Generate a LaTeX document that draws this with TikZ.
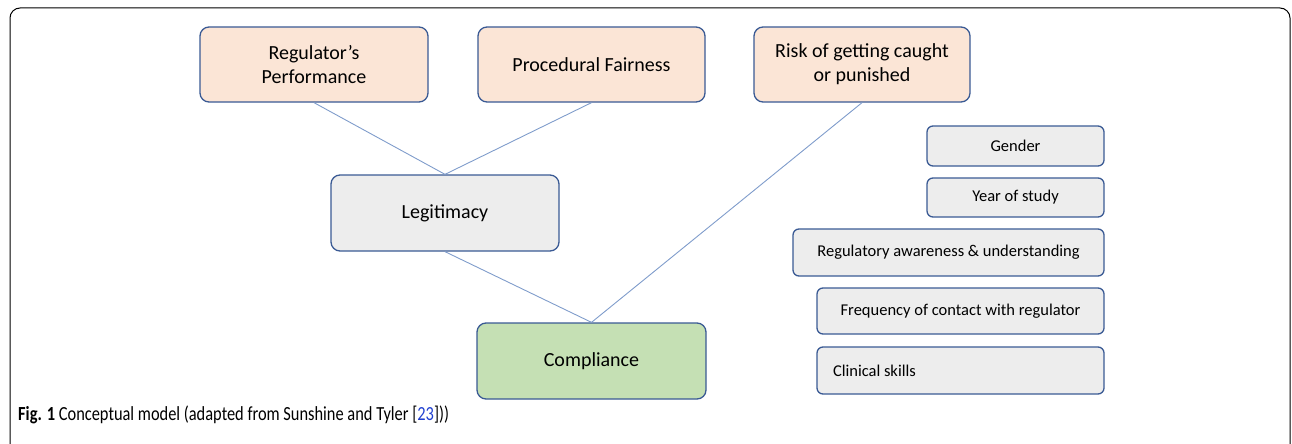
\documentclass[tikz,border=0pt]{standalone}
\usepackage{fontspec}
\setmainfont{Carlito}
\newfontfamily\capfont[FakeStretch=0.82]{Carlito}
\definecolor{boxline}{HTML}{3A5A94}
\definecolor{linkline}{HTML}{7F9CCB}
\definecolor{peach}{HTML}{FBE5D6}
\definecolor{lightgrey}{HTML}{EDEDED}
\definecolor{lightgreen}{HTML}{C5E0B4}
\definecolor{citeblue}{HTML}{1F3FD0}

\begin{document}
\begin{tikzpicture}[x = 1pt, y = -1pt,
	box/.style = {draw = boxline, line width = 1.3pt, rounded corners = 9pt, inner sep = 0pt, align = center, font = \fontsize{20}{24}\selectfont},
	side/.style = {box, rounded corners = 6pt, font = \fontsize{16.5}{19}\selectfont},
	link/.style = {draw = linkline, line width = 0.9pt}]
		\useasboundingbox (0, 0) rectangle (1292, 444);
		%%%%%%%%%%%%%
		\draw [line width = 1pt, rounded corners = 10pt] (10, 444) |- (1290, 8) -- (1290, 444);
		%%%%%%%%%%%%%
		\node [box, fill = peach, minimum width = 228pt, minimum height = 75pt] (perf) at (314, 64.5) {Regulator's\\Performance};
		\node [box, fill = peach, minimum width = 227pt, minimum height = 75pt] (fair) at (591.5, 64.5) {Procedural Fairness};
		\node [box, fill = peach, minimum width = 216pt, minimum height = 75pt] (risk) at (862, 64.5) {Risk of getting caught\\or punished};
		\node [box, fill = lightgrey, minimum width = 228pt, minimum height = 76pt] (legit) at (445, 213) {Legitimacy};
		\node [box, fill = lightgreen, minimum width = 229pt, minimum height = 76pt] (comp) at (591.5, 361) {Compliance};
		%%%%%%%%%%%%%
		\node [side, fill = lightgrey, minimum width = 177pt, minimum height = 40pt] (gender) at (1015.5, 146) {Gender};
		\node [side, fill = lightgrey, minimum width = 177pt, minimum height = 39pt] (year) at (1015.5, 197.5) {Year of study};
		\node [side, fill = lightgrey, minimum width = 311pt, minimum height = 47pt] (aware) at (948.5, 252.5) {Regulatory awareness \& understanding};
		\node [side, fill = lightgrey, minimum width = 287pt, minimum height = 46pt] (freq) at (960.5, 311) {Frequency of contact with regulator};
		\node [side, fill = lightgrey, minimum width = 287pt, minimum height = 47pt, align = flush left, text width = 255pt] (skills) at (960.5, 370.5) {Clinical skills};
		%%%%%%%%%%%%%
		\draw [link] (perf.south) to (legit.north);
		\draw [link] (fair.south) to (legit.north);
		\draw [link] (legit.south) to (comp.north);
		\draw [link] (risk.south) to (comp.north);
		%%%%%%%%%%%%%
		\node [anchor = base west, inner sep = 0pt, font = \capfont\fontsize{20}{23}\selectfont] (caption) at (18, 420) {\textbf{Fig. 1} Conceptual model (adapted from Sunshine and Tyler [\textcolor{citeblue}{23}]))};
\end{tikzpicture}
\end{document}
